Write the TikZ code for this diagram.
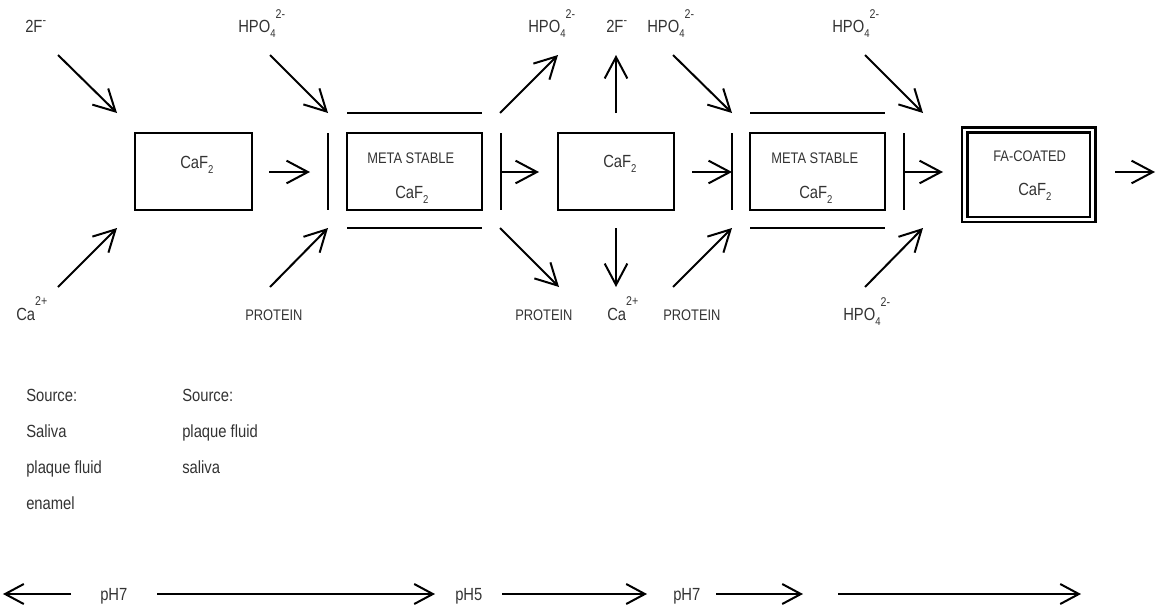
\documentclass[tikz,border=0pt]{standalone}
\usepackage{fontspec}
\setmainfont{Liberation Sans}[FakeStretch=0.84]
\usetikzlibrary{arrows.meta}
\definecolor{txt}{HTML}{333333}
\newcommand\lowx[2][4pt]{\raisebox{-#1}{\fontsize{8.5}{8.5}\selectfont #2}}
\newcommand\highx[2][10.5pt]{\raisebox{#1}{\fontsize{9.5}{9.5}\selectfont #2}}
\begin{document}
\begin{tikzpicture}[x=0.75pt,y=-0.75pt,
  ln/.style={line width=1.5pt},
  arr/.style={line width=1.5pt,-{Straight Barb[length=16pt,width=17pt]}},
  arrb/.style={line width=1.5pt,-{Straight Barb[length=14pt,width=15pt]}},
  box/.style={draw,line width=1.5pt,inner sep=0pt,outer sep=0pt,minimum height=57.75pt},
  lbl/.style={text=txt,inner sep=0pt,anchor=base west,font=\fontsize{13.2}{15}\selectfont},
  sml/.style={lbl,font=\fontsize{11.5}{13}\selectfont}]
\useasboundingbox (0,0) rectangle (1159,604);

% boxes
\node[box,minimum width=87.75pt] (b1) at (193.5,171.5) {};
\node[box,minimum width=101.25pt] (b2) at (414.5,171.5) {};
\node[box,minimum width=87pt] (b3) at (616,171.5) {};
\node[box,minimum width=101.25pt] (b4) at (817.5,171.5) {};
\node[draw,line width=1.9pt,double,double distance=2pt,inner sep=0pt,outer sep=0pt,
      minimum width=96pt,minimum height=67.1pt] (b5) at (1028.75,174.75) {};

% box texts
\node[lbl] (t1) at (180,168) {CaF\lowx[3.75pt]{2}};
\node[sml] (m2) at (367,163) {META STABLE};
\node[lbl] (t2) at (395,198) {CaF\lowx[3.75pt]{2}};
\node[lbl] (t3) at (603,167) {CaF\lowx[3.75pt]{2}};
\node[sml] (m4) at (771,163) {META STABLE};
\node[lbl] (t4) at (799,198) {CaF\lowx[3.75pt]{2}};
\node[sml] (m5) at (993,161) {FA-COATED};
\node[lbl] (t5) at (1018,195) {CaF\lowx[3.75pt]{2}};

% bars
\coordinate (r1t) at (328,133); \coordinate (r1b) at (328,210);
\coordinate (r2t) at (501,133); \coordinate (r2b) at (501,210);
\coordinate (r3t) at (732,133); \coordinate (r3b) at (732,210);
\coordinate (r4t) at (904,133); \coordinate (r4b) at (904,210);
\draw[ln] (r1t) -- (r1b);
\draw[ln] (r2t) -- (r2b);
\draw[ln] (r3t) -- (r3b);
\draw[ln] (r4t) -- (r4b);

% lines above / below meta stable boxes
\draw[ln] ([yshift=15pt]b2.north west) -- ([yshift=15pt]b2.north east);
\draw[ln] ([yshift=-13.5pt]b2.south west) -- ([yshift=-13.5pt]b2.south east);
\draw[ln] ([yshift=15pt]b4.north west) -- ([yshift=15pt]b4.north east);
\draw[ln] ([yshift=-13.5pt]b4.south west) -- ([yshift=-13.5pt]b4.south east);

% top labels
\node[lbl] (f1) at (25,32) {2F\highx[6pt]{-}};
\node[lbl] (p1) at (238,32) {HPO\lowx{4}\highx{2-}};
\node[lbl] (p2) at (528,32) {HPO\lowx{4}\highx{2-}};
\node[lbl] (f2) at (606,32) {2F\highx[6pt]{-}};
\node[lbl] (p3) at (647,32) {HPO\lowx{4}\highx{2-}};
\node[lbl] (p4) at (832,32) {HPO\lowx{4}\highx{2-}};

% bottom labels
\node[lbl] (c1) at (16,320) {Ca\highx[11pt]{2+}};
\node[sml] (q1) at (245,320) {PROTEIN};
\node[sml] (q2) at (515,320) {PROTEIN};
\node[lbl] (c2) at (607,320) {Ca\highx[11pt]{2+}};
\node[sml] (q3) at (663,320) {PROTEIN};
\node[lbl] (p5) at (843,320) {HPO\lowx{4}\highx{2-}};

% top arrows
\coordinate (a1s) at (58,55);   \coordinate (a1e) at (117,113);
\coordinate (a2s) at (270,55);  \coordinate (a2e) at (328,113);
\coordinate (a5s) at (500,113); \coordinate (a5e) at (558,55);
\coordinate (a6s) at (616,113); \coordinate (a6e) at (616,55);
\coordinate (a7s) at (673,55);  \coordinate (a7e) at (732,113);
\coordinate (a10s) at (865,55); \coordinate (a10e) at (923,113);
\draw[arr] (a1s) -- (a1e);
\draw[arr] (a2s) -- (a2e);
\draw[arr] (a5s) -- (a5e);
\draw[arr] (a6s) -- (a6e);
\draw[arr] (a7s) -- (a7e);
\draw[arr] (a10s) -- (a10e);

% horizontal arrows
\coordinate (h1s) at (269,172); \coordinate (h1e) at (310,172);
\coordinate (h2s) at (501,172); \coordinate (h2e) at (539,172);
\coordinate (h3s) at (692,172); \coordinate (h3e) at (732,172);
\coordinate (h4s) at (904,172); \coordinate (h4e) at (943,172);
\coordinate (h5s) at (1115,172); \coordinate (h5e) at (1155,172);
\draw[arr] (h1s) -- (h1e);
\draw[arr] (h2s) -- (h2e);
\draw[arr] (h3s) -- (h3e);
\draw[arr] (h4s) -- (h4e);
\draw[arr] (h5s) -- (h5e);

% bottom arrows
\coordinate (d1s) at (58,287);  \coordinate (d1e) at (117,228);
\coordinate (d2s) at (270,287); \coordinate (d2e) at (328,228);
\coordinate (d3s) at (500,228); \coordinate (d3e) at (559,287);
\coordinate (d4s) at (616,228); \coordinate (d4e) at (616,287);
\coordinate (d5s) at (673,287); \coordinate (d5e) at (732,228);
\coordinate (d6s) at (865,287); \coordinate (d6e) at (923,228);
\draw[arr] (d1s) -- (d1e);
\draw[arr] (d2s) -- (d2e);
\draw[arr] (d3s) -- (d3e);
\draw[arr] (d4s) -- (d4e);
\draw[arr] (d5s) -- (d5e);
\draw[arr] (d6s) -- (d6e);

% sources
\node[lbl] (s1) at (26,401) {Source:};
\node[lbl] (s2) at (26,437) {Saliva};
\node[lbl] (s3) at (26,473) {plaque fluid};
\node[lbl] (s4) at (26,509) {enamel};
\node[lbl] (s5) at (182,401) {Source:};
\node[lbl] (s6) at (182,437) {plaque fluid};
\node[lbl] (s7) at (182,473) {saliva};

% pH line
\node[lbl] (ph1) at (100,600) {pH7};
\node[lbl] (ph2) at (455,600) {pH5};
\node[lbl] (ph3) at (673,600) {pH7};
\coordinate (e1s) at (71,594);  \coordinate (e1e) at (3,594);
\coordinate (e2s) at (157,594); \coordinate (e2e) at (435,594);
\coordinate (e3s) at (502,594); \coordinate (e3e) at (647,594);
\coordinate (e4s) at (716,594); \coordinate (e4e) at (803,594);
\coordinate (e5s) at (838,594); \coordinate (e5e) at (1081,594);
\draw[arrb] (e1s) -- (e1e);
\draw[arrb] (e2s) -- (e2e);
\draw[arrb] (e3s) -- (e3e);
\draw[arrb] (e4s) -- (e4e);
\draw[arrb] (e5s) -- (e5e);
\end{tikzpicture}
\end{document}
